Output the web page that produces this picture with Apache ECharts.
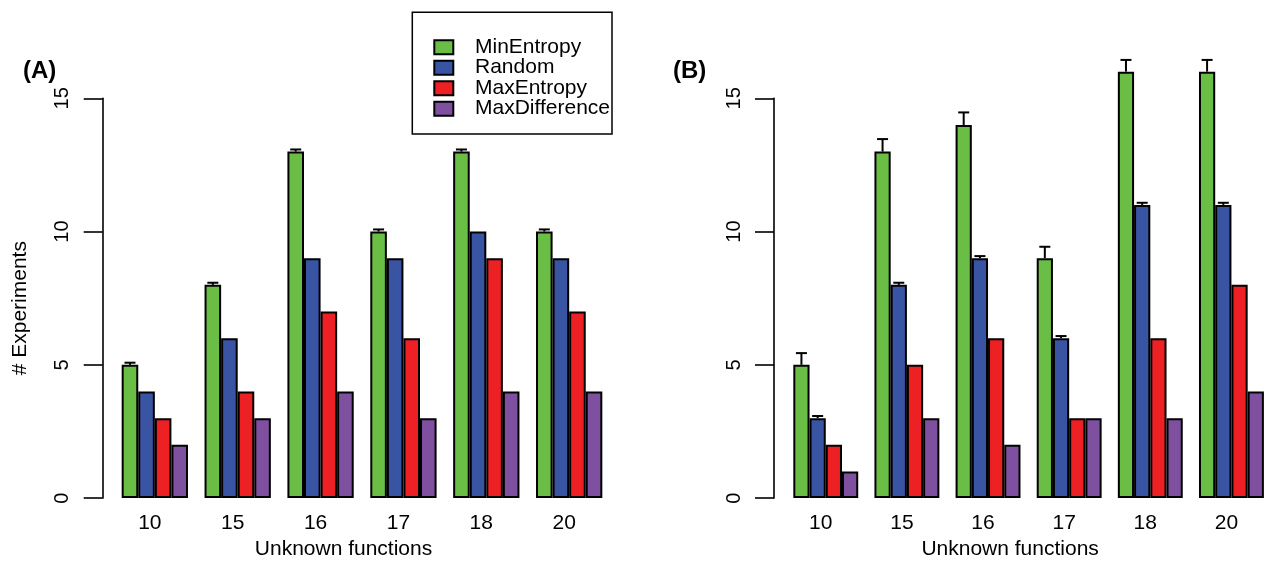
<!DOCTYPE html>
<html>
<head>
<meta charset="utf-8">
<script src="https://cdn.jsdelivr.net/npm/echarts@6/dist/echarts.min.js"></script>
<style>
html,body{margin:0;padding:0;background:#fff;}
#chart{width:1272px;height:565px;}
</style>
</head>
<body>
<div id="chart"></div>
<script>
// ---- data ----
const categories = ['10', '15', '16', '17', '18', '20'];
const seriesNames = ['MinEntropy', 'Random', 'MaxEntropy', 'MaxDifference'];
const yTicks = [0, 5, 10, 15];

// Panel A
const minEntropyA = [5, 8, 13, 10, 13, 10];
const randomA = [4, 6, 9, 9, 10, 9];
const maxEntropyA = [3, 4, 7, 6, 9, 7];
const maxDifferenceA = [2, 3, 4, 3, 4, 4];
const minEntropyErrA = [0.08, 0.08, 0.08, 0.08, 0.08, 0.08];

// Panel B
const minEntropyB = [5, 13, 14, 9, 16, 16];
const randomB = [3, 8, 9, 6, 11, 11];
const maxEntropyB = [2, 5, 6, 3, 6, 8];
const maxDifferenceB = [1, 3, 2, 3, 3, 4];
const minEntropyErrB = [0.44, 0.47, 0.47, 0.43, 0.44, 0.44];
const randomErrB = [0.08, 0.08, 0.08, 0.08, 0.08, 0.08];

const colors = ['#6BBE45', '#3A54A4', '#ED2024', '#8050A0'];
const FONT = "'Liberation Sans', Arial, Helvetica, sans-serif";

const chart = echarts.init(document.getElementById('chart'), null, {renderer: 'canvas'});

const BAR_FRACTION = 0.8; // barCategoryGap 20%
function errRenderer(barIndex) {
  return function (params, api) {
    const idx = api.value(0), v = api.value(1), e = api.value(2);
    const base = api.coord([idx, v]);
    const top = api.coord([idx, v + e]);
    const band = api.size([1, 0])[0];
    const barW = band * BAR_FRACTION / 4;
    const x = base[0] + (barIndex - 1.5) * barW;
    const capHalf = 5.5;
    return {
      type: 'group',
      children: [
        {type: 'line', shape: {x1: x, y1: base[1], x2: x, y2: top[1]}, style: {stroke: '#000', lineWidth: 2}},
        {type: 'line', shape: {x1: x - capHalf, y1: top[1], x2: x + capHalf, y2: top[1]}, style: {stroke: '#000', lineWidth: 2}}
      ]
    };
  };
}

function barSeries(name, data, ci, axisIdx) {
  return {
    name: name, type: 'bar', data: data,
    xAxisIndex: axisIdx, yAxisIndex: axisIdx,
    barGap: '0%', barCategoryGap: '20%',
    clip: false,
    itemStyle: {color: colors[ci], borderColor: '#000', borderWidth: 2},
    emphasis: {disabled: true}
  };
}
function errSeries(vals, errs, barIndex, axisIdx) {
  return {
    type: 'custom', xAxisIndex: axisIdx, yAxisIndex: axisIdx,
    renderItem: errRenderer(barIndex), clip: false, z: 5,
    encode: {x: 0, y: 1},
    data: vals.map((v, i) => [i, v, errs[i]])
  };
}

const gridTop = 98.3, gridH = 402.7, gridW = 497.2;
const leftA = 113.4, leftB = 785.2;

function xAxisDef(gi) {
  return {
    type: 'category', gridIndex: gi, data: categories,
    axisLine: {show: false}, axisTick: {show: false},
    axisLabel: {fontSize: 21, color: '#000', margin: 15, padding: [0, 10, 0, 0], fontFamily: FONT},
    name: 'Unknown functions', nameLocation: 'middle', nameGap: 34,
    nameTextStyle: {fontSize: 21, color: '#000', padding: [0, 37, 0, 0], fontFamily: FONT}
  };
}
function yAxisDef(gi, offset, withName) {
  const d = {
    type: 'value', gridIndex: gi, min: yTicks[0], max: yTicks[yTicks.length - 1], interval: 5,
    offset: offset,
    axisLine: {show: true, lineStyle: {color: '#000', width: 1.6}},
    axisTick: {show: true, length: 19, lineStyle: {color: '#000', width: 1.6}},
    axisLabel: {rotate: 90, fontSize: 20, color: '#000', margin: 30, fontFamily: FONT},
    splitLine: {show: false}
  };
  if (withName) {
    d.name = '# Experiments';
    d.nameLocation = 'middle';
    d.nameGap = 72;
    d.nameTextStyle = {fontSize: 21, color: '#000', padding: [0, 20, 0, 0], fontFamily: FONT};
  }
  return d;
}

const option = {
  animation: false,
  backgroundColor: '#fff',
  textStyle: {fontFamily: FONT},
  grid: [
    {left: leftA, top: gridTop, width: gridW, height: gridH},
    {left: leftB, top: gridTop, width: gridW, height: gridH}
  ],
  xAxis: [xAxisDef(0), xAxisDef(1)],
  yAxis: [yAxisDef(0, 10.7, true), yAxisDef(1, 11.2, false)],
  legend: {
    data: seriesNames, orient: 'vertical', left: 412.3, top: 12.3,
    padding: [24.4, 2, 14.8, 21], itemWidth: 19, itemHeight: 14, itemGap: -0.5,
    icon: 'rect',
    borderColor: '#000', borderWidth: 1.5, selectedMode: false,
    textStyle: {fontSize: 21, color: '#000', lineHeight: 20, padding: [0, 0, 0, 16.7], fontFamily: FONT}
  },
  graphic: [
    {type: 'text', left: 23, top: 59, style: {text: '(A)', font: "bold 24px 'Liberation Sans', Arial, sans-serif", fill: '#000'}},
    {type: 'text', left: 673, top: 59, style: {text: '(B)', font: "bold 24px 'Liberation Sans', Arial, sans-serif", fill: '#000'}}
  ],
  series: [
    barSeries(seriesNames[0], minEntropyA, 0, 0),
    barSeries(seriesNames[1], randomA, 1, 0),
    barSeries(seriesNames[2], maxEntropyA, 2, 0),
    barSeries(seriesNames[3], maxDifferenceA, 3, 0),
    errSeries(minEntropyA, minEntropyErrA, 0, 0),
    barSeries(seriesNames[0], minEntropyB, 0, 1),
    barSeries(seriesNames[1], randomB, 1, 1),
    barSeries(seriesNames[2], maxEntropyB, 2, 1),
    barSeries(seriesNames[3], maxDifferenceB, 3, 1),
    errSeries(minEntropyB, minEntropyErrB, 0, 1),
    errSeries(randomB, randomErrB, 1, 1)
  ]
};
chart.setOption(option);
</script>
</body>
</html>
